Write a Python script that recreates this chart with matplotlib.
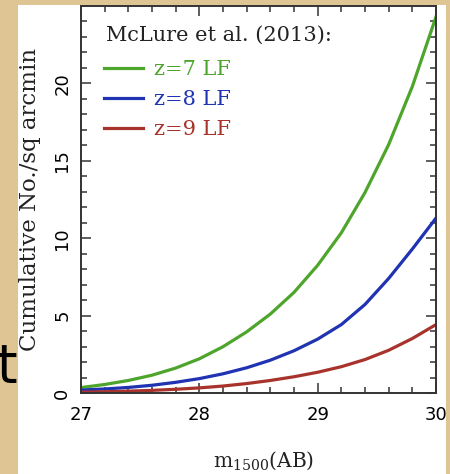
import matplotlib.pyplot as plt
from matplotlib.patches import Rectangle
from matplotlib.ticker import MultipleLocator

# cumulative surface density of galaxies brighter than m_1500
mag = [27.0, 27.2, 27.4, 27.6, 27.8, 28.0, 28.2, 28.4,
       28.6, 28.8, 29.0, 29.2, 29.4, 29.6, 29.8, 30.0]
z7_counts = [0.35, 0.55, 0.81, 1.15, 1.61, 2.21, 2.99, 3.95,
             5.10, 6.50, 8.25, 10.35, 12.95, 16.05, 19.80, 24.3]
z8_counts = [0.19, 0.26, 0.36, 0.50, 0.69, 0.93, 1.24, 1.63,
             2.12, 2.73, 3.48, 4.42, 5.72, 7.40, 9.30, 11.3]
z9_counts = [0.05, 0.08, 0.12, 0.17, 0.24, 0.33, 0.45, 0.61,
             0.81, 1.05, 1.34, 1.70, 2.16, 2.76, 3.52, 4.42]

series_labels = ['z=7 LF', 'z=8 LF', 'z=9 LF']
series_colors = ['#4ea52c', '#1f33b3', '#a8332c']
x_ticks = [27, 28, 29, 30]
y_ticks = [0, 5, 10, 15, 20]

W, H = 450, 474
fig = plt.figure(figsize=(W / 100, H / 100), dpi=100)
fig.patch.set_facecolor('#dfc593')

# stray slide text peeking out behind the figure panel
fig.text(-3 / W, 1 - 382 / H, 't', fontsize=38, family='DejaVu Sans',
         color='black', zorder=0.5)

# white panel holding the plot
fig.add_artist(Rectangle((18 / W, 0), (446 - 18) / W, (H - 5) / H,
                         transform=fig.transFigure, facecolor='white',
                         edgecolor='none', zorder=1))

ax = fig.add_axes([81 / W, 1 - 393 / H, (436 - 81) / W, (393 - 6) / H])
ax.set_zorder(2)
ax.set_facecolor('white')

for counts, lab, col in zip([z7_counts, z8_counts, z9_counts],
                            series_labels, series_colors):
    ax.plot(mag, counts, color=col, lw=2.3, label=lab,
            solid_joinstyle='round')

ax.set_xlim(27, 30)
ax.set_ylim(0, 25)
ax.set_xticks(x_ticks)
ax.set_yticks(y_ticks)
ax.xaxis.set_minor_locator(MultipleLocator(0.2))
ax.yaxis.set_minor_locator(MultipleLocator(1))
ax.set_xticklabels([str(t) for t in x_ticks], family='DejaVu Sans', fontsize=13)
ax.set_yticklabels([str(t) for t in y_ticks], family='DejaVu Sans', fontsize=13,
                   rotation=90, va='center')

ax.tick_params(which='both', direction='in', top=True, right=True,
               color='#333333', width=1.1)
ax.tick_params(which='major', length=7)
ax.tick_params(which='minor', length=4)
ax.tick_params(axis='x', pad=9)
ax.tick_params(axis='y', pad=7)
for sp in ax.spines.values():
    sp.set_color('#333333')
    sp.set_linewidth(1.4)

plt.rcParams['mathtext.fontset'] = 'dejavuserif'
ax.set_ylabel('Cumulative No./sq arcmin', family='DejaVu Serif', fontsize=16.5,
              color='#222222')
ax.yaxis.set_label_coords(-0.113, 0.5)
ax.set_xlabel(r'm$_{\mathregular{1500}}$(AB)', family='DejaVu Serif',
              fontsize=14.5, color='#222222')
ax.xaxis.set_label_coords(0.513, -0.145)

# legend heading sits above the entries as plain text
ax.text(0.0704, 0.9096, 'McLure et al. (2013):', transform=ax.transAxes,
        family='DejaVu Serif', fontsize=15, color='#222222', va='baseline')
leg = ax.legend(loc='upper left', frameon=False,
                bbox_to_anchor=(0.041, 0.881), borderaxespad=0,
                labelcolor='linecolor', handlelength=1.9, handletextpad=0.5,
                labelspacing=0.52,
                prop={'family': 'DejaVu Serif', 'size': 15})

fig.savefig('out.png', dpi=100, facecolor=fig.get_facecolor())
